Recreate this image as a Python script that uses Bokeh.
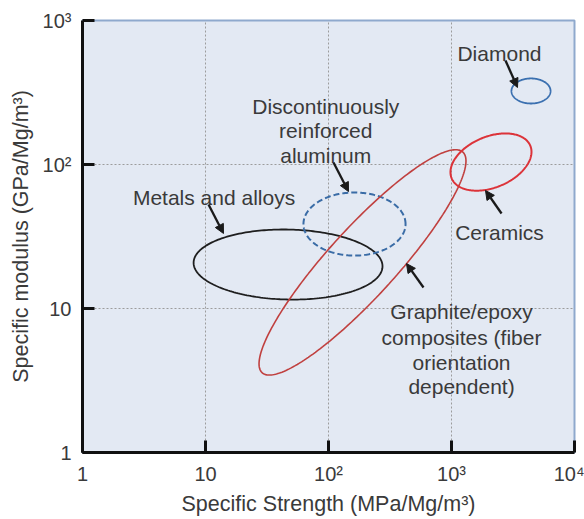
import numpy as np
from bokeh.plotting import figure
from bokeh.models import FixedTicker, Arrow, NormalHead, ColumnDataSource, Range1d
from bokeh.core.properties import value
from bokeh.embed import file_html
from bokeh.resources import INLINE

# ---- axis ticks ----
x_ticks = [1, 10, 100, 1000, 10000]
x_tick_labels = ["1", "10", "10²", "10³", "10⁴"]
y_ticks = [1, 10, 100, 1000]
y_tick_labels = ["1", "10", "10²", "10³"]

# ---- material property envelopes (log-log ellipses) ----
region_names = ["Metals and alloys", "Discontinuously reinforced aluminum",
                "Graphite/epoxy composites", "Ceramics", "Diamond"]
region_strength = [46.9, 162.7, 189.0, 2094.0, 4430.0]    # centre, MPa/(Mg/m3)
region_modulus = [20.2, 38.6, 20.9, 104.0, 324.0]         # centre, GPa/(Mg/m3)
region_half_major = [0.768, 0.415, 1.12, 0.34, 0.159]     # decades
region_half_minor = [0.243, 0.219, 0.256, 0.18, 0.087]    # decades
region_tilt_deg = [-1.0, 0.0, 42.7, 17.0, 0.0]

# ---- callout arrows (from label to region) ----
arrow_x_start = [10.58, 109.8, 592.0, 2552.0, 2748.0]
arrow_y_start = [52.8, 103.3, 13.99, 45.7, 527.0]
arrow_x_end = [14.0, 145.4, 430.6, 1890.0, 3440.0]
arrow_y_end = [33.2, 64.9, 20.5, 65.97, 342.5]

# ---- annotation text lines ----
label_text = ["Metals and alloys",
              "Discontinuously", "reinforced", "aluminum",
              "Graphite/epoxy", "composites (fiber", "orientation", "dependent)",
              "Ceramics", "Diamond"]
label_x = [11.73, 95.0, 95.0, 95.0, 1206.0, 1206.0, 1206.0, 1206.0, 2455.0, 2455.0]
label_y = [59.0, 252.9, 170.9, 114.6, 9.53, 6.29, 4.22, 2.87, 33.7, 590.0]

# ---- styles ----
region_colors = ["#1e1e1e", "#3a6ca6", "#c0403f", "#dc3339", "#3b70b0"]
region_dash = ["solid", "6 3", "solid", "solid", "solid"]
region_width = [1.8, 2.0, 1.6, 2.0, 1.8]
FONT = "Liberation Sans"
TEXT_COLOR = "#3a3a3a"

p = figure(width=584, height=519, x_axis_type="log", y_axis_type="log",
           x_range=Range1d(1, 10000), y_range=Range1d(1, 1000),
           output_backend="svg", toolbar_location=None,
           min_border_left=82, min_border_right=10, min_border_top=20,
           min_border_bottom=67)

p.background_fill_color = "#e3e9f3"
p.border_fill_color = "white"
p.outline_line_color = "#8fa9cd"
p.outline_line_width = 2

for grid in (p.xgrid[0], p.ygrid[0]):
    grid.grid_line_color = "#9c9c9c"
    grid.grid_line_dash = "2 2"
    grid.grid_line_width = 1

p.xaxis[0].ticker = FixedTicker(ticks=x_ticks)
p.yaxis[0].ticker = FixedTicker(ticks=y_ticks)
p.xaxis[0].major_label_overrides = {t: s for t, s in zip(x_ticks, x_tick_labels)}
p.yaxis[0].major_label_overrides = {t: s for t, s in zip(y_ticks, y_tick_labels)}
p.xaxis[0].axis_label = "Specific Strength (MPa/Mg/m³)"
p.yaxis[0].axis_label = "Specific modulus (GPa/Mg/m³)"

for ax in (p.xaxis[0], p.yaxis[0]):
    ax.axis_line_width = 3
    ax.axis_line_color = "#111111"
    ax.major_tick_in = 12
    ax.major_tick_out = 0
    ax.major_tick_line_width = 3
    ax.major_tick_line_color = "#111111"
    ax.minor_tick_line_color = None
    ax.major_label_text_font = FONT
    ax.major_label_text_font_size = "20px"
    ax.major_label_text_color = TEXT_COLOR
    ax.axis_label_text_font = FONT
    ax.axis_label_text_font_size = "21.5px"
    ax.axis_label_text_font_style = "normal"
    ax.axis_label_text_color = TEXT_COLOR

p.xaxis[0].major_label_standoff = 10
p.xaxis[0].axis_label_standoff = 4
p.yaxis[0].major_label_standoff = 11
p.yaxis[0].axis_label_standoff = 7

# ellipse outlines computed in log-decade space
t = np.linspace(0, 2 * np.pi, 241)
for cx, cy, a, b, ang, col, dash, lw in zip(region_strength, region_modulus,
                                            region_half_major, region_half_minor,
                                            region_tilt_deg, region_colors,
                                            region_dash, region_width):
    phi = np.deg2rad(ang)
    lx = np.log10(cx) + a * np.cos(t) * np.cos(phi) - b * np.sin(t) * np.sin(phi)
    ly = np.log10(cy) + a * np.cos(t) * np.sin(phi) + b * np.sin(t) * np.cos(phi)
    p.line(10 ** lx, 10 ** ly, line_color=col, line_width=lw, line_dash=dash)

arrow_src = ColumnDataSource(dict(x0=arrow_x_start, y0=arrow_y_start,
                                  x1=arrow_x_end, y1=arrow_y_end))
p.add_layout(Arrow(x_start="x0", y_start="y0", x_end="x1", y_end="y1",
                   source=arrow_src, line_color="#1a1a1a", line_width=2.3,
                   end=NormalHead(size=9, fill_color="#1a1a1a",
                                  line_color="#1a1a1a", line_width=1)))

label_src = ColumnDataSource(dict(x=label_x, y=label_y, text=label_text))
p.text(x="x", y="y", text="text", source=label_src, text_align="center",
       text_baseline="alphabetic", text_font=value(FONT),
       text_font_size="21px", text_color=TEXT_COLOR)

open("out.html", "w").write(file_html(p, INLINE))
